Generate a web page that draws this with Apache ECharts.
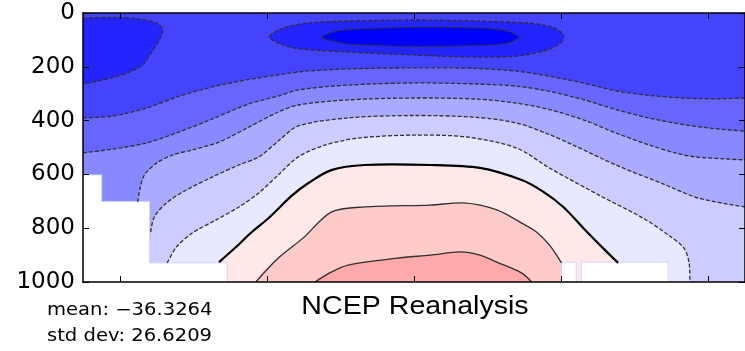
<!DOCTYPE html>
<html><head><meta charset="utf-8">
<script src="https://cdn.jsdelivr.net/npm/echarts@6/dist/echarts.min.js"></script>
<style>html,body{margin:0;padding:0;background:#fff}#c{width:745px;height:351px}</style>
</head><body><div id="c"></div>
<script>
// ---- axis ticks ----
const latTicks = [-80, -40, 0, 40, 80];
const pressureTicks = [0, 200, 400, 600, 800, 1000];

// ---- contour lines, points are [latitude (deg), pressure (hPa)] ----
const cMinus60South = [[-90,19],[-81.9,16],[-75.5,21],[-70.1,37],[-68.3,62],[-69.2,99],[-71.5,149],[-73.7,192],[-77.3,219],[-81.8,239],[-86.3,254],[-90,264]];
const cMinus60Ring = [[-39.3,88],[-35.5,56],[-28.7,37],[-17.9,30],[0,26],[17.1,30],[30.6,37],[37.4,52],[40.6,80],[40.1,108],[36.0,138],[27.9,160],[17.1,164],[0,156],[-17.9,145],[-31.5,132],[-36.9,112]];
const cMinus70Core = [[-25.2,90],[-22,71],[-17.9,62],[0,53],[17.9,56],[25.2,67],[28.5,90],[25.2,112],[17.9,120],[0,124],[-17.9,115],[-22,104]];
const cMinus50 = [[-90,390],[-81.9,383],[-72.7,353],[-63.8,309],[-54.9,275],[-45.7,249],[-36.9,230],[-30.1,217],[-17.9,208],[0,204],[17.1,206],[27.9,216],[36.8,235],[46.0,260],[54.9,289],[63.8,306],[73.4,316],[81.9,319],[90,316]];
const cMinus40 = [[-90,520],[-81.9,506],[-72.7,483],[-63.8,442],[-54.9,394],[-44.9,338],[-36.9,309],[-31.5,286],[-17.9,268],[0,260],[17.1,264],[27.9,272],[36.8,291],[46.0,322],[54.9,359],[63.8,390],[73.4,415],[81.9,430],[90,439]];
const cMinus30 = [[-75.1,703],[-74.6,658],[-73.3,602],[-70,558],[-65.7,528],[-60.3,509],[-53,480],[-44.9,424],[-36.9,368],[-31.5,342],[-17.9,323],[0,316],[17.1,320],[27.9,335],[36.8,359],[46,397],[54.9,446],[63.8,490],[71,520],[76.5,535],[90,546]];
const cMinus20 = [[-71.6,814],[-70.6,758],[-67.3,706],[-61.9,658],[-54.9,610],[-47.6,565],[-42.2,535],[-36.9,476],[-31.5,420],[-17.9,390],[0,381],[17.1,388],[27.9,409],[36.8,452],[43.3,491],[54.9,565],[68.4,639],[77.3,688],[90,721]];
const cMinus10 = [[-67.1,929],[-64.6,870],[-60.3,818],[-53.9,770],[-47.6,721],[-42.2,669],[-36.9,602],[-31.5,535],[-24.2,491],[-15.2,465],[0,454],[14.4,461],[27.9,502],[36.8,576],[50.3,677],[62.2,762],[69.1,825],[73.4,874],[74.8,929],[75,1000]];
const cZero = [[-53,926],[-48.4,870],[-44.1,814],[-39.5,762],[-33.3,680],[-28.7,632],[-22.5,584],[-13.4,565],[4.5,565],[17.9,576],[29.3,621],[35.2,665],[40.6,721],[46,799],[51.4,874],[55.5,929]];
const cPlus10 = [[-43,1000],[-36.9,911],[-30.1,836],[-22.5,740],[-13.4,721],[4.5,714],[13.6,706],[22.5,732],[29.3,781],[33.3,814],[36.8,862],[40.1,929]];
const cPlus20 = [[-26.9,1000],[-22.5,963],[-17.9,937],[-4.5,911],[4.5,900],[12.5,888],[17.9,900],[22.5,926],[29.3,967],[32,1000]];

// ---- below-ground (missing) regions ----
const groundSouth = [[-90,602],[-84.9,602],[-84.9,701],[-71.9,701],[-71.9,929],[-50.8,929],[-50.8,1000],[-90,1000]];
const groundNorthA = [[40.1,926],[44.1,926],[44.1,1000],[40.1,1000]];
const groundNorthB = [[45.5,926],[69.1,926],[69.1,1000],[45.5,1000]];

// ---- level colours (coldest -> warmest) ----
const levelColors = ['#0000FF','#2424FF','#4444FF','#6666FF','#8888FF','#AAAAFF','#CCCCFF','#E8E8FF','#FFE8E8','#FFCACA','#FFAAAA'];

const statsText = ['mean: \u221236.3264', 'std dev: 26.6209'];
const panelTitle = 'NCEP Reanalysis';

// region warmer than a contour that separates top from bottom
function warmSide(line) {
  const f = line[0], l = line[line.length - 1];
  const pts = [];
  if (f[0] <= -90) pts.push([-100, f[1]]);
  line.forEach(p => pts.push(p));
  if (l[0] >= 90) pts.push([100, l[1]]);
  pts.push([l[0] >= 90 ? 100 : l[0], 1300]);
  pts.push([f[0] <= -90 ? -100 : f[0], 1300]);
  return pts;
}
const SM = 0.3;
const fills = [
  {pts: [[-100,-100],[100,-100],[100,1300],[-100,1300]], color: levelColors[2], smooth: 0},
  {pts: [[-100,19]].concat(cMinus60South, [[-100,264]]), color: levelColors[1], smooth: SM},
  {pts: cMinus60Ring, color: levelColors[1], smooth: SM},
  {pts: cMinus70Core, color: levelColors[0], smooth: SM},
  {pts: warmSide(cMinus50), color: levelColors[3], smooth: SM},
  {pts: warmSide(cMinus40), color: levelColors[4], smooth: SM},
  {pts: warmSide(cMinus30), color: levelColors[5], smooth: SM},
  {pts: warmSide(cMinus20), color: levelColors[6], smooth: SM},
  {pts: warmSide(cMinus10), color: levelColors[7], smooth: SM},
  {pts: warmSide(cZero), color: levelColors[8], smooth: SM},
  {pts: warmSide(cPlus10), color: levelColors[9], smooth: SM},
  {pts: warmSide(cPlus20), color: levelColors[10], smooth: SM},
  {pts: groundSouth, color: '#FFFFFF', smooth: 0, stroke: '#D4D4FF'},
  {pts: groundNorthA, color: '#FFFFFF', smooth: 0, stroke: '#D4D4FF'},
  {pts: groundNorthB, color: '#FFFFFF', smooth: 0, stroke: '#D4D4FF'}
];
const lines = [
  {pts: cMinus60South, kind: 'neg'},
  {pts: cMinus60Ring, kind: 'neg', closed: true},
  {pts: cMinus70Core, kind: 'neg', closed: true},
  {pts: cMinus50, kind: 'neg'},
  {pts: cMinus40, kind: 'neg'},
  {pts: cMinus30, kind: 'neg'},
  {pts: cMinus20, kind: 'neg'},
  {pts: cMinus10, kind: 'neg'},
  {pts: cZero, kind: 'zero'},
  {pts: cPlus10, kind: 'pos'},
  {pts: cPlus20, kind: 'pos'}
];
const lineStyles = {
  neg: {stroke: '#303030', lineWidth: 1.3, lineDash: [4, 2], fill: null},
  zero: {stroke: '#000000', lineWidth: 2.2, fill: null},
  pos: {stroke: '#303030', lineWidth: 1.3, fill: null}
};

const chart = echarts.init(document.getElementById('c'), null, {renderer: 'canvas'});
const axisBase = {
  type: 'value', min: -90, max: 90, z: 10,
  axisLine: {show: true, onZero: false, lineStyle: {color: '#000', width: 1.5}},
  axisTick: {show: true, inside: true, length: 6, customValues: latTicks, lineStyle: {color: '#000'}},
  axisLabel: {show: false}, splitLine: {show: false}
};
const yBase = {
  type: 'value', min: 0, max: 1000, interval: 200, inverse: true, z: 10,
  axisLine: {show: true, onZero: false, lineStyle: {color: '#000', width: 1.5}},
  axisTick: {show: true, inside: true, length: 6, lineStyle: {color: '#000'}},
  splitLine: {show: false}
};
chart.setOption({
  animation: false,
  backgroundColor: '#fff',
  grid: {left: 83, top: 13, width: 667, height: 269, containLabel: false},
  xAxis: [
    Object.assign({}, axisBase, {position: 'bottom'}),
    Object.assign({}, axisBase, {position: 'top'})
  ],
  yAxis: [
    Object.assign({}, yBase, {position: 'left', axisLabel: {show: true, margin: 8, color: '#000', fontFamily: 'DejaVu Sans', fontSize: 23, customValues: pressureTicks, formatter: v => String(v)}}),
    Object.assign({}, yBase, {position: 'right', axisLabel: {show: false}})
  ],
  series: [
    {
      type: 'custom', clip: true, z: 1,
      data: fills.map(() => [0, 500]),
      renderItem: (params, api) => {
        const f = fills[params.dataIndex];
        return {
          type: 'polygon',
          shape: {points: f.pts.map(p => api.coord(p)), smooth: f.smooth},
          style: {fill: f.color, stroke: f.stroke || null, lineWidth: f.stroke ? 1 : 0}
        };
      }
    },
    {
      type: 'custom', clip: true, z: 2,
      data: lines.map(() => [0, 500]),
      renderItem: (params, api) => {
        const l = lines[params.dataIndex];
        return {
          type: l.closed ? 'polygon' : 'polyline',
          shape: {points: l.pts.map(p => api.coord(p)), smooth: SM},
          style: Object.assign({}, lineStyles[l.kind])
        };
      }
    }
  ],
  graphic: [
    {type: 'text', x: 415, y: 307, scaleX: 1.1, style: {text: panelTitle, font: '26px "Liberation Sans"', fill: '#000', align: 'center', verticalAlign: 'middle'}},
    {type: 'text', x: 47, y: 311, scaleX: 1.15, style: {text: statsText[0], font: '17px "DejaVu Sans"', fill: '#000', align: 'left', verticalAlign: 'middle'}},
    {type: 'text', x: 47, y: 337, scaleX: 1.15, style: {text: statsText[1], font: '17px "DejaVu Sans"', fill: '#000', align: 'left', verticalAlign: 'middle'}}
  ]
});
</script>
</body></html>
